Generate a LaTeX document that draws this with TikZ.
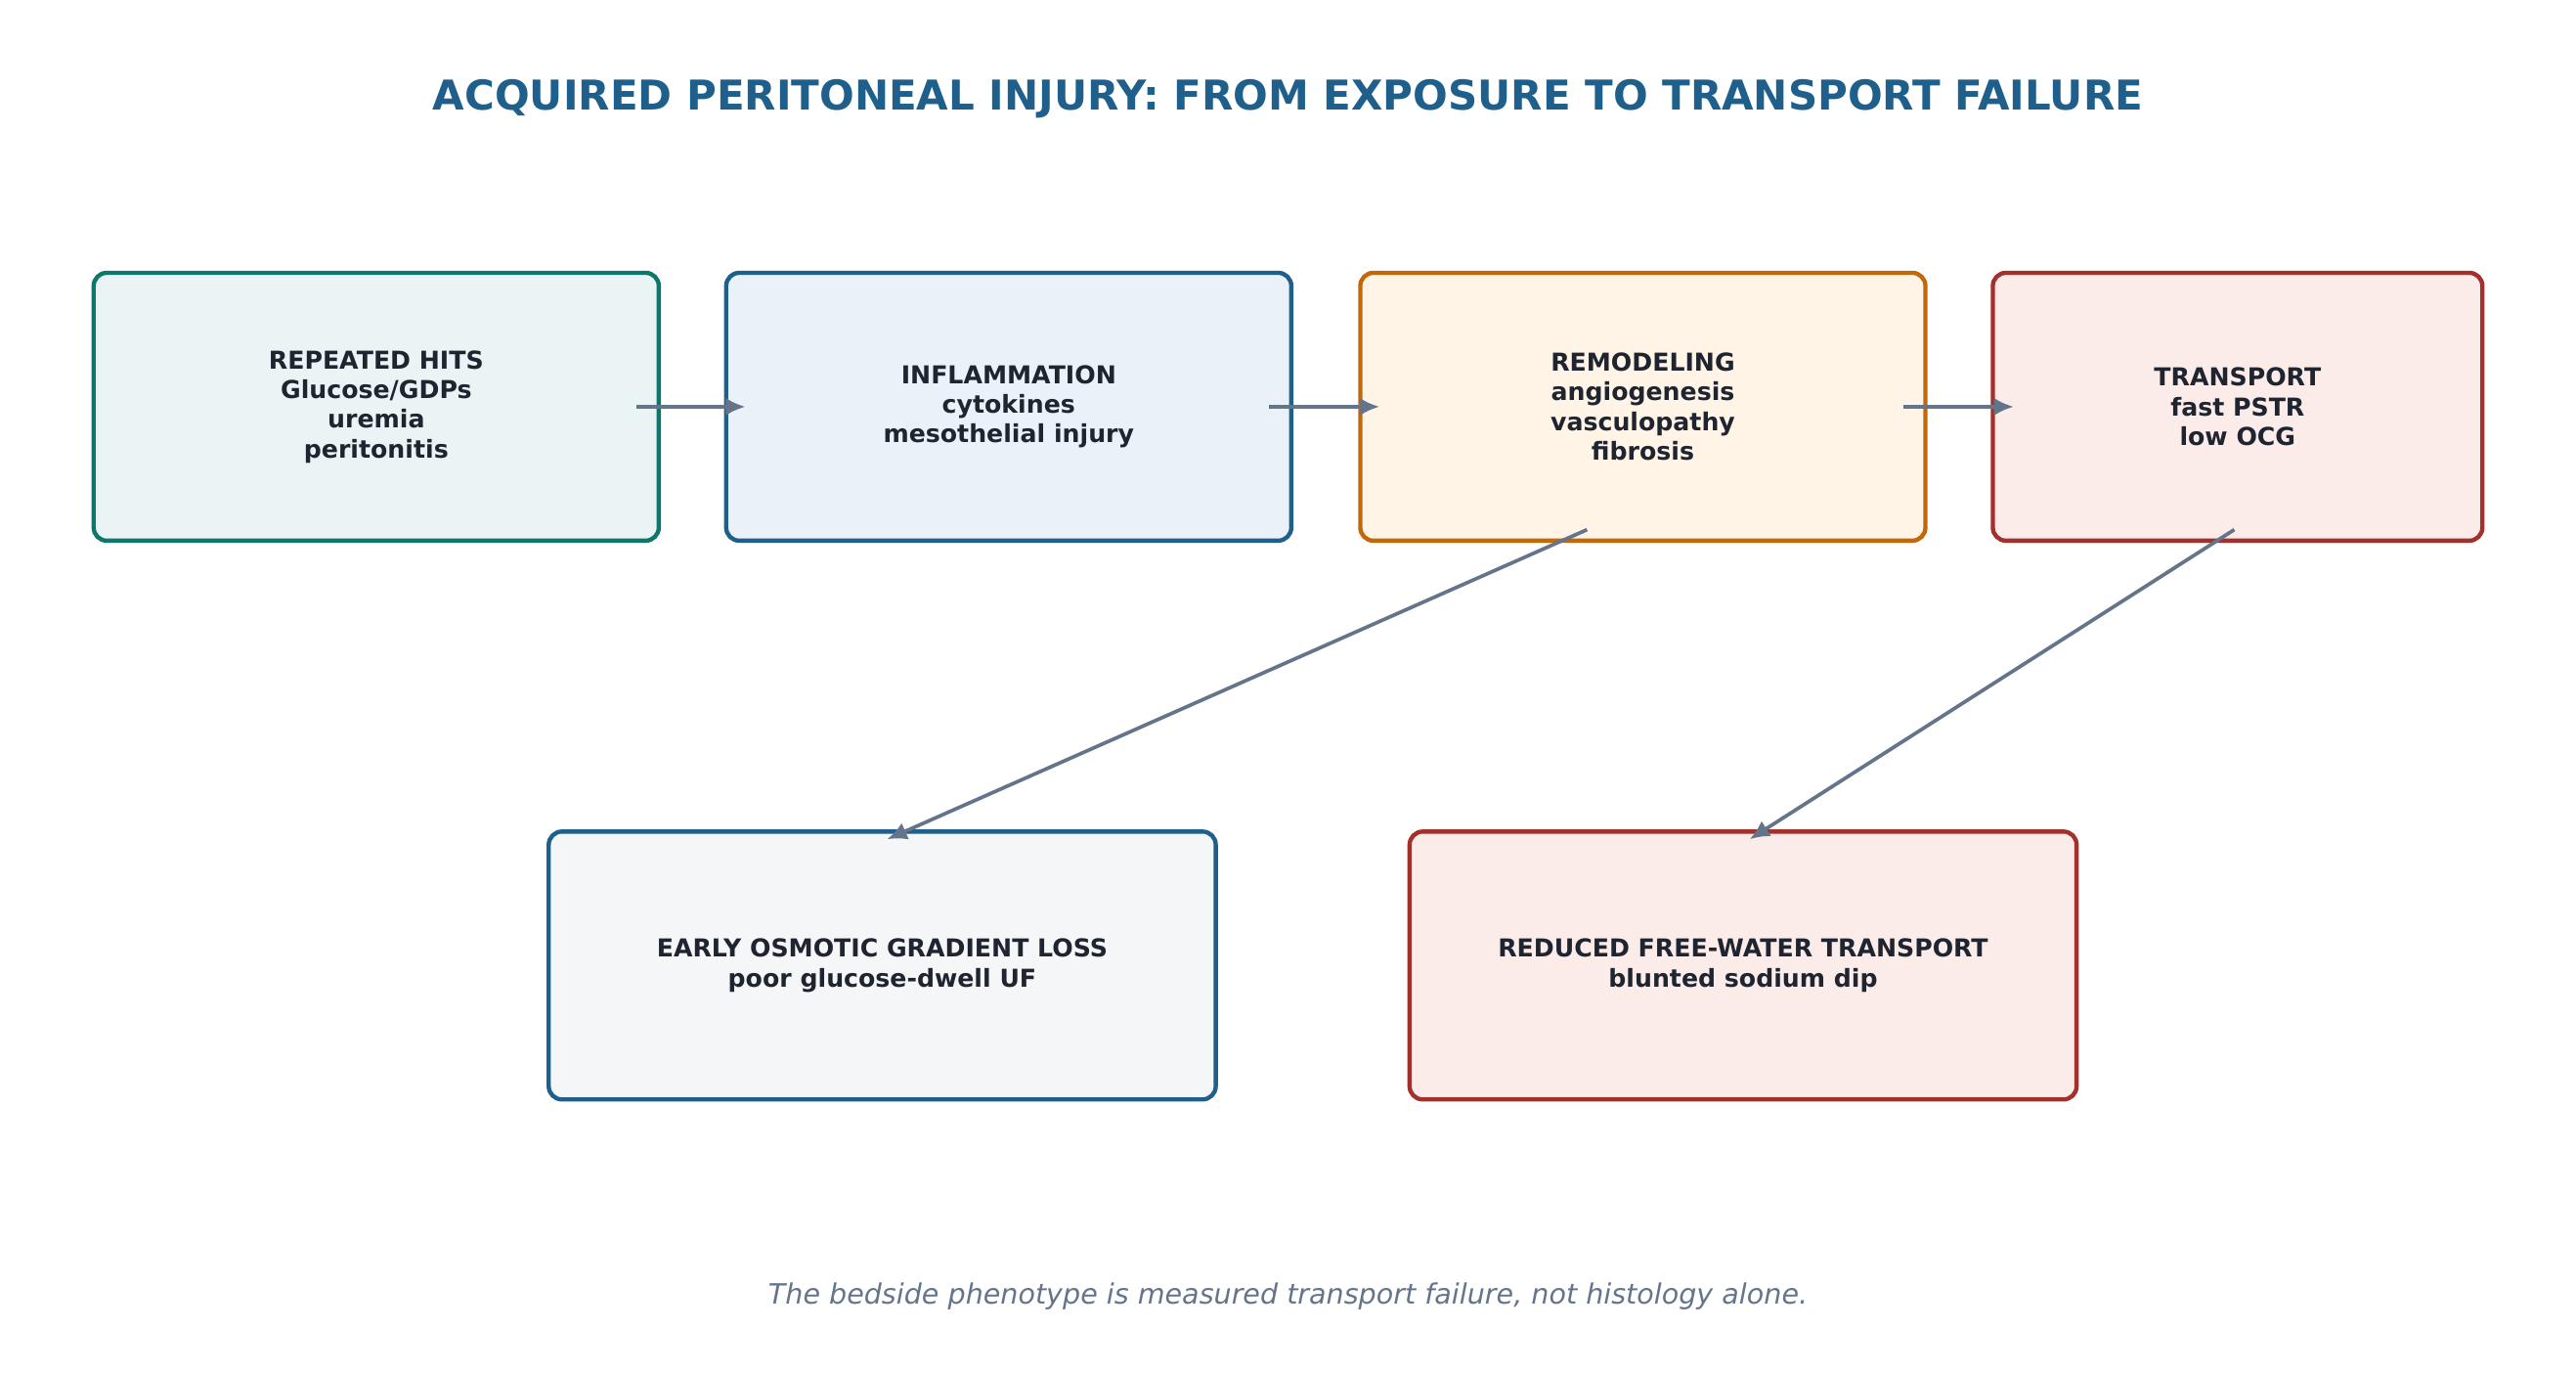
\documentclass[tikz,border=0pt]{standalone}
\usepackage{fontspec}
\setmainfont{DejaVu Sans}
\usetikzlibrary{calc,arrows.meta}
\definecolor{titleblue}{HTML}{1F5F8B}
\definecolor{arrowgray}{HTML}{64748B}
\definecolor{txt}{HTML}{1E2530}
\definecolor{tealline}{HTML}{0F766E}
\definecolor{tealfill}{HTML}{EAF4F4}
\definecolor{bluefill}{HTML}{EAF1F8}
\definecolor{orangeline}{HTML}{C2680A}
\definecolor{orangefill}{HTML}{FFF4E6}
\definecolor{redline}{HTML}{A3302A}
\definecolor{redfill}{HTML}{FBEBE9}
\definecolor{grayfill}{HTML}{F4F6F8}
\begin{document}
\begin{tikzpicture}[x=1pt,y=-1pt,
    box/.style={rounded corners=8pt,line width=2.6pt,draw,align=center,font=\bfseries\fontsize{15}{18}\selectfont,text=txt,inner sep=0pt},
    flow/.style={-{Latex[length=12pt,width=11pt]},draw=arrowgray,line width=2.2pt}]
    \useasboundingbox (0,0) rectangle (1568,835);
    \node[font=\bfseries\fontsize{25}{30}\selectfont,text=titleblue] (title) at (784,60) {ACQUIRED PERITONEAL INJURY: FROM EXPOSURE TO TRANSPORT FAILURE};

    \node[box,draw=tealline,fill=tealfill,minimum width=344pt,minimum height=163pt] (hits) at (229,247.5) {REPEATED HITS\\Glucose/GDPs\\uremia\\peritonitis};
    \node[box,draw=titleblue,fill=bluefill,minimum width=344pt,minimum height=163pt] (infl) at (614,247.5) {INFLAMMATION\\cytokines\\mesothelial injury};
    \node[box,draw=orangeline,fill=orangefill,minimum width=344pt,minimum height=163pt] (remod) at (1000,247.5) {REMODELING\\angiogenesis\\vasculopathy\\fibrosis};
    \node[box,draw=redline,fill=redfill,minimum width=298pt,minimum height=163pt] (trans) at (1362,247.5) {TRANSPORT\\fast PSTR\\low OCG};
    \node[box,draw=titleblue,fill=grayfill,minimum width=406pt,minimum height=163pt] (ocg) at (537,587.5) {EARLY OSMOTIC GRADIENT LOSS\\poor glucose-dwell UF};
    \node[box,draw=redline,fill=redfill,minimum width=406pt,minimum height=163pt] (fwt) at (1061,587.5) {REDUCED FREE-WATER TRANSPORT\\blunted sodium dip};

    \node[font=\itshape\fontsize{17}{20}\selectfont,text=arrowgray] (foot) at (784,789) {The bedside phenotype is measured transport failure, not histology alone.};

    \draw[flow] ($(hits.east)+(-15,0)$) -- ($(infl.west)+(13,0)$);
    \draw[flow] ($(infl.east)+(-15,0)$) -- ($(remod.west)+(13,0)$);
    \draw[flow] ($(remod.east)+(-15,0)$) -- ($(trans.west)+(14,0)$);
    \draw[flow] ($(remod.south)+(-34,-8)$) -- ($(ocg.north)+(3,6)$);
    \draw[flow] ($(trans.south)+(-2,-8)$) -- ($(fwt.north)+(4,6)$);
\end{tikzpicture}
\end{document}
